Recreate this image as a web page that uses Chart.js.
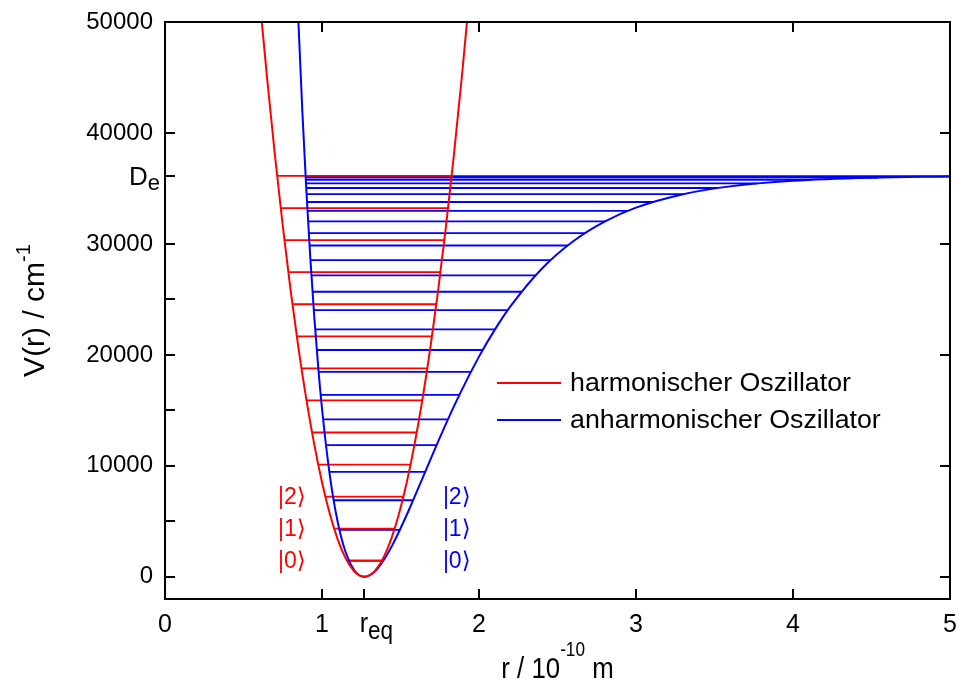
<!DOCTYPE html>
<html>
<head>
<meta charset="utf-8">
<script src="https://cdn.jsdelivr.net/npm/chart.js@4.4.1/dist/chart.umd.min.js"></script>
<style>
  html, body { margin: 0; padding: 0; background: #fff; }
</style>
</head>
<body>
<canvas id="myChart" width="959" height="686"></canvas>
<script>
// r in 10^-10 m, V in cm^-1
const harmR = [0.60, 0.65, 0.70, 0.75, 0.80, 0.85, 0.90, 0.95, 1.00, 1.05, 1.10, 1.15, 1.20, 1.235, 1.27,
  1.305, 1.34, 1.39, 1.44, 1.49, 1.54, 1.59, 1.64, 1.69, 1.74, 1.79, 1.84, 1.89, 1.94];
const harmV = [52520, 44975, 38013, 31637, 25845, 20639, 16017, 11981, 8529, 5663, 3381, 1685, 573, 143, 0,
  143, 573, 1685, 3381, 5663, 8529, 11981, 16017, 20639, 25845, 31637, 38013, 44975, 52520];

const morseR = [0.84, 0.85, 0.875, 0.90, 0.925, 0.95, 0.975, 1.00, 1.05, 1.10, 1.15, 1.20, 1.235, 1.27, 1.31,
  1.35, 1.40, 1.45, 1.55, 1.65, 1.75, 1.85, 2.0, 2.1, 2.2, 2.4, 2.6, 2.8, 3.0, 3.3, 3.6, 4.0, 4.5, 5.0];
const morseV = [53420, 49910, 41900, 34918, 28853, 23578, 19048, 15170, 9121, 4936, 2235, 692, 162, 0, 184,
  684, 1651, 2899, 5909, 9215, 12520, 15652, 19844, 22254, 24366, 27765, 30240, 32011, 33267, 34479, 35186,
  35688, 35967, 36077];

// vibrational levels and their turning points
const harmLevels = [1445, 4335, 7225, 10115, 13005, 15895, 18785, 21675, 24565, 27455, 30345, 33235, 36125];
const harmLeft = [1.159, 1.078, 1.022, 0.976, 0.937, 0.901, 0.869, 0.840, 0.812, 0.786, 0.761, 0.737, 0.714];
const harmRight = [1.381, 1.463, 1.519, 1.564, 1.603, 1.639, 1.671, 1.700, 1.728, 1.754, 1.779, 1.803, 1.826];

const anhLevels = [1450, 4230, 6900, 9450, 11870, 14190, 16390, 18460, 20440, 22300, 24040, 25690, 27170,
  28540, 29860, 30980, 32030, 32970, 33780, 34480, 35040, 35450, 35770, 35980, 36100];
const anhLeft = [1.171, 1.111, 1.074, 1.047, 1.025, 1.007, 0.992, 0.979, 0.967, 0.957, 0.948, 0.940, 0.933,
  0.926, 0.921, 0.916, 0.911, 0.908, 0.904, 0.902, 0.900, 0.898, 0.897, 0.896, 0.896];
const anhRight = [1.391, 1.496, 1.580, 1.657, 1.730, 1.802, 1.875, 1.948, 2.024, 2.102, 2.184, 2.271, 2.360,
  2.456, 2.565, 2.675, 2.803, 2.946, 3.109, 3.300, 3.523, 3.774, 4.106, 4.542, 5.0];

const yTicks = [0, 10000, 20000, 30000, 40000, 50000];
const yMinor = [5000, 15000, 25000];
const xTicks = [0, 1, 2, 3, 4, 5];
const rEq = 1.27;
const De = 36100;
const ketLabels = ['|0\u27E9', '|1\u27E9', '|2\u27E9'];
const legendItems = ['harmonischer Oszillator', 'anharmonischer Oszillator'];

const SANS = "'Liberation Sans', Arial, 'DejaVu Sans', sans-serif";

function curve(xs, ys) {
  return xs.map((x, i) => ({ x: x, y: ys[i] }));
}

function levelLines(levels, left, right) {
  const out = [];
  levels.forEach((e, i) => {
    out.push({ x: left[i], y: e }, { x: right[i], y: e }, { x: right[i], y: null });
  });
  return out;
}

// text made of pieces: [text, size, dy]; sx squeezes it horizontally
function drawRuns(ctx, parts, x, y, align, sx) {
  sx = sx || 1;
  let w = 0;
  parts.forEach(p => { ctx.font = p[1] + 'px ' + SANS; w += ctx.measureText(p[0]).width; });
  const start = align === 'center' ? x - w * sx / 2 : (align === 'right' ? x - w * sx : x);
  ctx.save();
  ctx.translate(start, y);
  ctx.scale(sx, 1);
  ctx.textAlign = 'left';
  let cx = 0;
  parts.forEach(p => {
    ctx.font = p[1] + 'px ' + SANS;
    ctx.fillText(p[0], cx, p[2]);
    cx += ctx.measureText(p[0]).width;
  });
  ctx.restore();
}

const framePlugin = {
  id: 'frame',
  afterDraw(chart) {
    const { ctx, chartArea: a, scales: { x, y } } = chart;
    ctx.save();
    ctx.strokeStyle = '#000';
    ctx.lineWidth = 2;
    ctx.strokeRect(a.left, a.top, a.right - a.left, a.bottom - a.top);

    const tl = 10;
    ctx.beginPath();
    yTicks.concat(yMinor, [De]).forEach(v => {
      const py = Math.round(y.getPixelForValue(v));
      ctx.moveTo(a.left, py); ctx.lineTo(a.left + tl, py);
    });
    yTicks.slice(0, 5).forEach(v => {
      const py = Math.round(y.getPixelForValue(v));
      ctx.moveTo(a.right, py); ctx.lineTo(a.right - tl, py);
    });
    xTicks.slice(1, 5).concat([rEq]).forEach(v => {
      const px = Math.round(x.getPixelForValue(v));
      ctx.moveTo(px, a.bottom); ctx.lineTo(px, a.bottom - tl);
    });
    xTicks.slice(1, 5).forEach(v => {
      const px = Math.round(x.getPixelForValue(v));
      ctx.moveTo(px, a.top); ctx.lineTo(px, a.top + tl);
    });
    ctx.stroke();

    ctx.fillStyle = '#000';
    ctx.textBaseline = 'alphabetic';
    // D_e on the y axis, r_eq on the x axis
    drawRuns(ctx, [['D', 26, 0], ['e', 22, 5]], a.left - 5, y.getPixelForValue(De) + 9, 'right');
    drawRuns(ctx, [['r', 28, 0], ['eq', 25, 7]], x.getPixelForValue(rEq) + 12, a.bottom + 33, 'center', 0.9);

    // axis titles
    drawRuns(ctx, [['r / 10', 30, 0], ['-10', 20, -22], [' m', 30, 0]], (a.left + a.right) / 2, 678, 'center', 0.86);
    ctx.save();
    ctx.translate(44, (a.top + a.bottom) / 2);
    ctx.rotate(-Math.PI / 2);
    drawRuns(ctx, [['V(r) / cm', 30, 0], ['-1', 20, -14]], 0, 0, 'center');
    ctx.restore();

    // |n> labels
    ctx.textBaseline = 'middle';
    ctx.font = '23px ' + SANS;
    ctx.textAlign = 'left';
    ketLabels.forEach((t, i) => {
      const py = y.getPixelForValue(harmLevels[i]) + 1;
      ctx.fillStyle = '#ff0000';
      ctx.fillText(t, x.getPixelForValue(0.72), py);
      ctx.fillStyle = '#0000ff';
      ctx.fillText(t, x.getPixelForValue(1.77), py);
    });

    // legend inside the plot
    const lx = a.left + 332;
    const colors = ['#ff0000', '#0000ff'];
    legendItems.forEach((t, i) => {
      const ly = 383 + i * 37;
      ctx.strokeStyle = colors[i];
      ctx.lineWidth = 2;
      ctx.beginPath();
      ctx.moveTo(lx, ly); ctx.lineTo(lx + 64, ly);
      ctx.stroke();
      ctx.fillStyle = '#000';
      ctx.textBaseline = 'middle';
      drawRuns(ctx, [[t, 25, 1]], lx + 73, ly, 'left', 1.07);
    });
    ctx.restore();
  }
};

const ctx = document.getElementById('myChart').getContext('2d');
const myChart = new Chart(ctx, {
  type: 'line',
  data: {
    datasets: [
      {
        label: legendItems[0],
        data: curve(harmR, harmV),
        borderColor: '#ff0000',
        borderWidth: 2,
        pointRadius: 0,
        cubicInterpolationMode: 'monotone'
      },
      {
        label: legendItems[1],
        data: curve(morseR, morseV),
        borderColor: '#0000ff',
        borderWidth: 2,
        pointRadius: 0,
        cubicInterpolationMode: 'monotone'
      },
      {
        label: 'harm. levels',
        data: levelLines(harmLevels, harmLeft, harmRight),
        borderColor: '#ff0000',
        borderWidth: 1.8,
        pointRadius: 0,
        tension: 0,
        spanGaps: false
      },
      {
        label: 'anharm. levels',
        data: levelLines(anhLevels, anhLeft, anhRight),
        borderColor: '#0000ff',
        borderWidth: 1.8,
        pointRadius: 0,
        tension: 0,
        spanGaps: false
      }
    ]
  },
  options: {
    responsive: false,
    animation: false,
    layout: { padding: { top: 22, right: 9, left: 0, bottom: 0 } },
    plugins: { legend: { display: false }, tooltip: { enabled: false } },
    scales: {
      x: {
        type: 'linear',
        min: 0,
        max: 5,
        afterBuildTicks: s => { s.ticks = xTicks.map(v => ({ value: v })); },
        afterFit: s => { s.height = 87; s.paddingLeft = 0; s.paddingRight = 0; },
        grid: { display: false, drawTicks: false },
        border: { display: false },
        ticks: { color: '#000', padding: 11, maxRotation: 0, font: { size: 25, family: SANS } }
      },
      y: {
        type: 'linear',
        min: -2000,
        max: 50000,
        afterBuildTicks: s => { s.ticks = yTicks.map(v => ({ value: v })); },
        afterFit: s => { s.width = 165; s.paddingTop = 0; s.paddingBottom = 0; },
        grid: { display: false, drawTicks: false },
        border: { display: false },
        ticks: { color: '#000', padding: 12, font: { size: 24, family: SANS }, callback: v => String(v) }
      }
    }
  },
  plugins: [framePlugin]
});
</script>
</body>
</html>
